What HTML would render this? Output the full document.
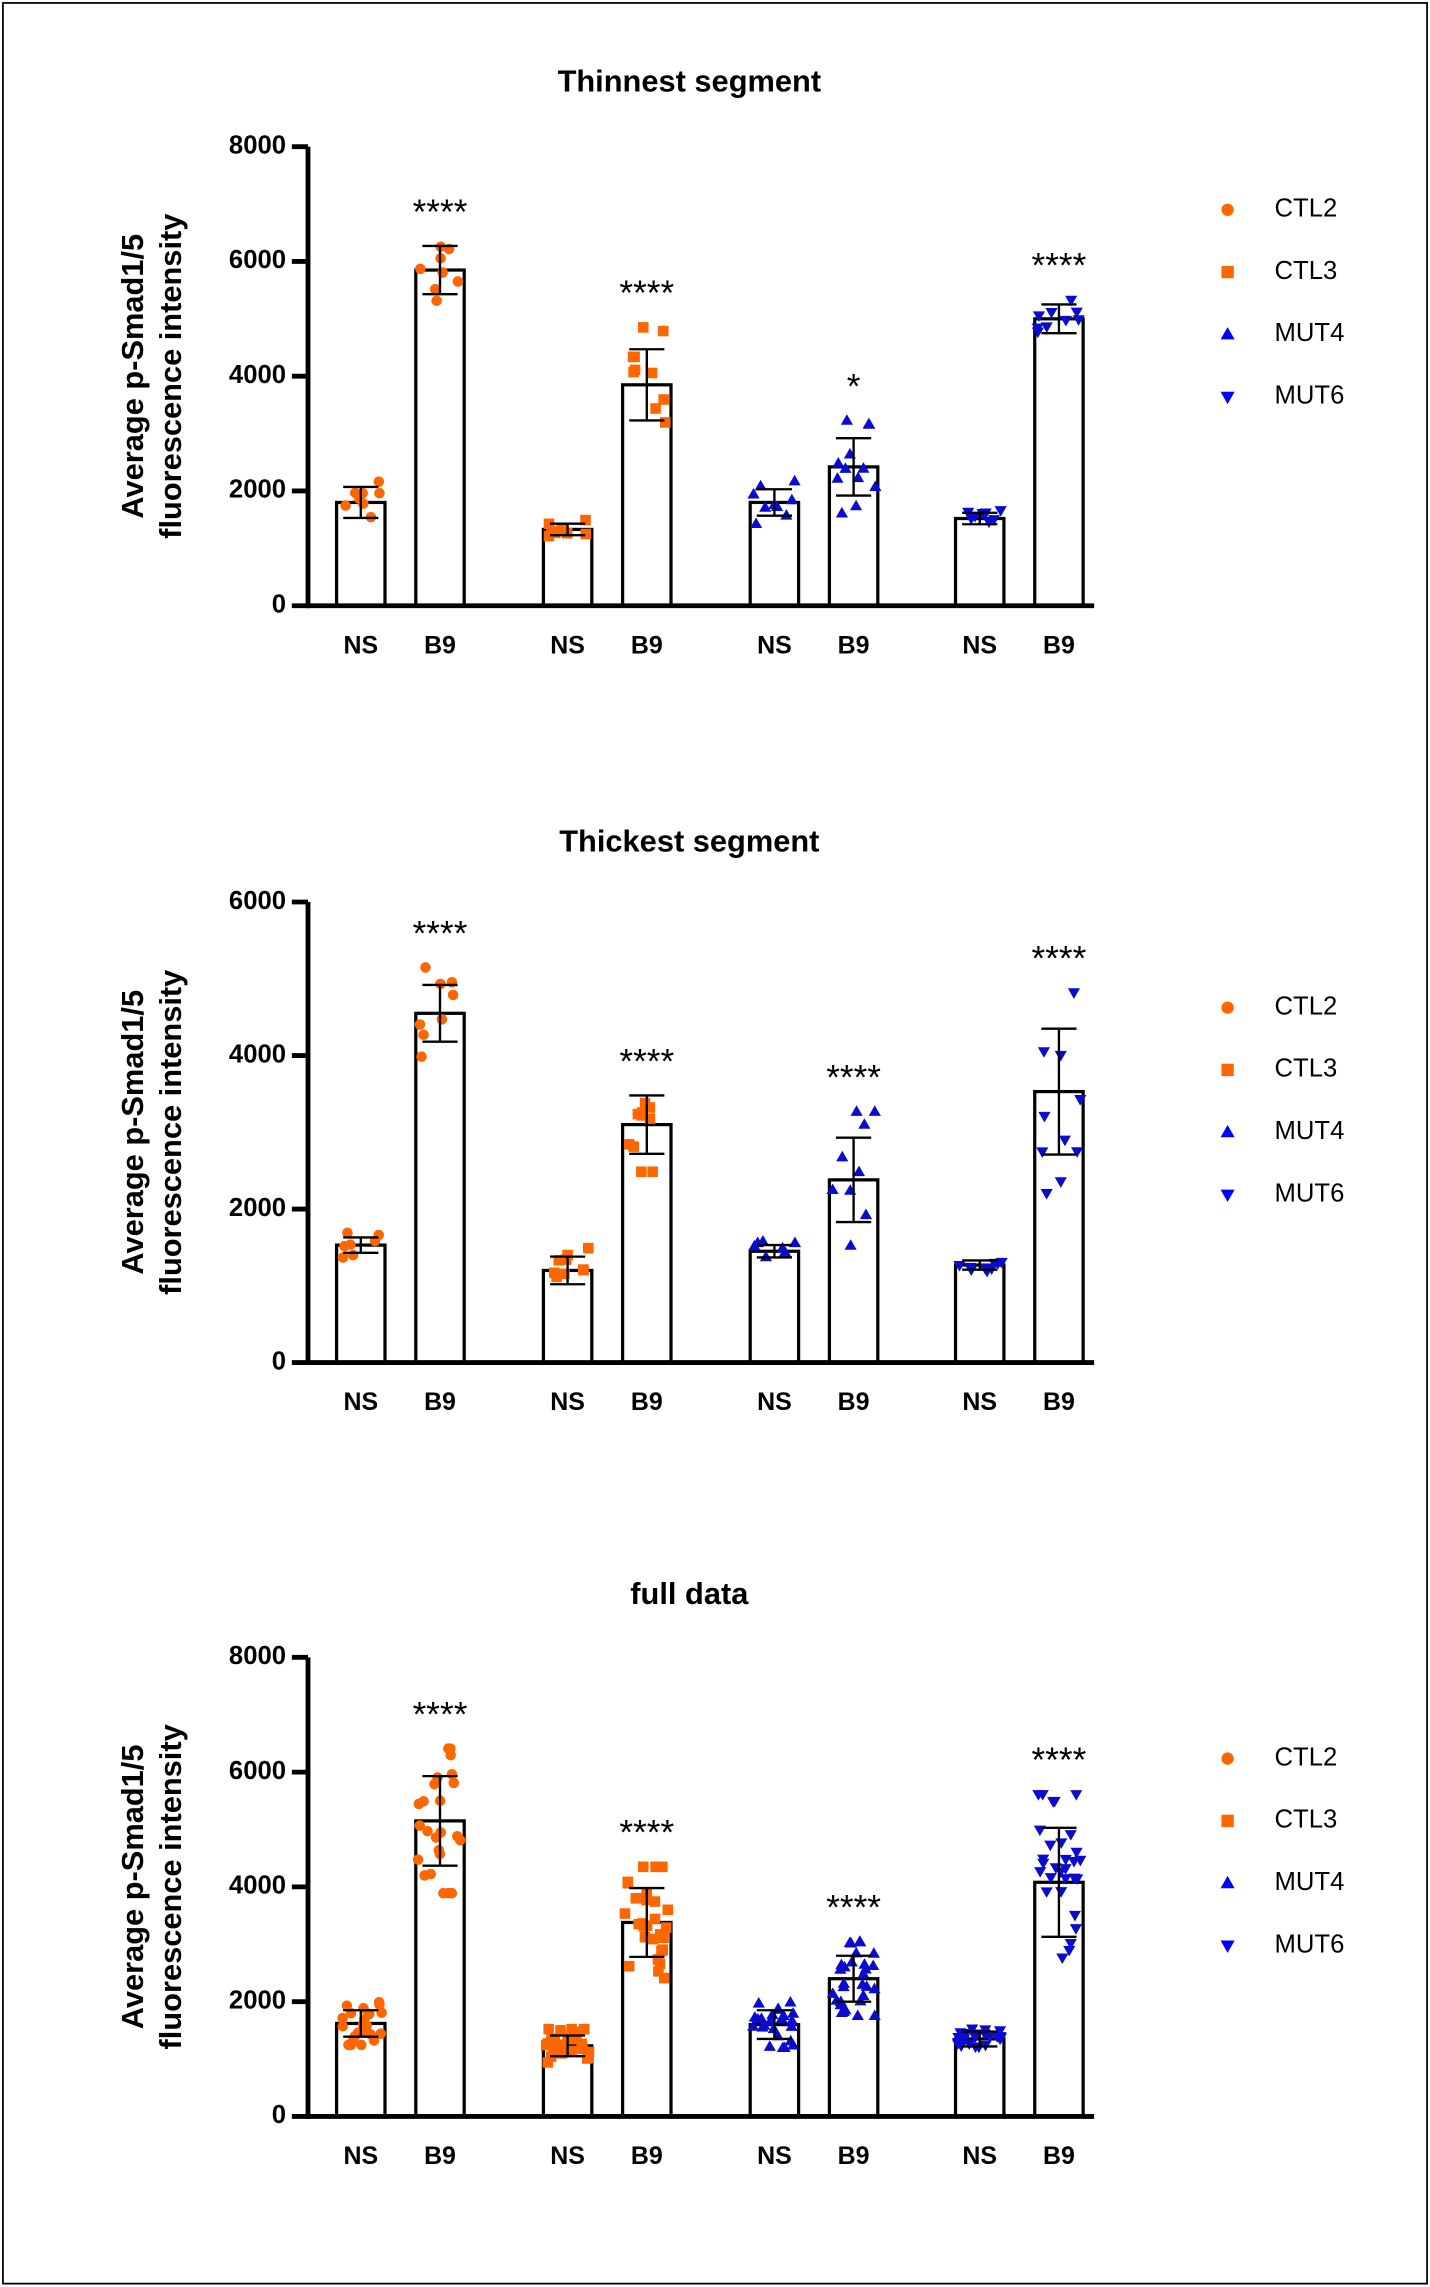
<!DOCTYPE html>
<html><head><meta charset="utf-8">
<style>
html,body{margin:0;padding:0;background:#fff;}
svg{display:block;}
text{font-family:"Liberation Sans",Arial,sans-serif;}
</style></head>
<body>
<svg id="s" width="1430" height="2287" viewBox="0 0 975 1559.3" xmlns="http://www.w3.org/2000/svg">
<rect x="2" y="2" width="971" height="1555" fill="#fff" stroke="#000" stroke-width="1.2"/>
</svg>
<script>
var s=document.getElementById('s');var h='';
var seed=7;function rnd(){seed=(seed*16807)%2147483647;return seed/2147483647;}
function gauss(){var u=0;for(var i=0;i<4;i++)u+=rnd();var g=(u-2)/0.58;return Math.max(-1.7,Math.min(1.7,g));}
var OR='#FF6600',BL='#0B0BD0';
var xs=[246,300,387,441,528,582,668,722];
function f(v){return (+v).toFixed(1);}
function marker(type,x,y,c,r){
 x=+x;y=+y;
 if(type==0)return '<circle cx="'+f(x)+'" cy="'+f(y)+'" r="'+r+'" fill="'+c+'"/>';
 if(type==1)return '<rect x="'+f(x-r)+'" y="'+f(y-r)+'" width="'+2*r+'" height="'+2*r+'" fill="'+c+'"/>';
 if(type==2)return '<polygon points="'+f(x)+','+f(y-r*1.2)+' '+f(x-r*1.15)+','+f(y+r*0.8)+' '+f(x+r*1.15)+','+f(y+r*0.8)+'" fill="'+c+'"/>';
 return '<polygon points="'+f(x)+','+f(y+r*1.2)+' '+f(x-r*1.15)+','+f(y-r*0.8)+' '+f(x+r*1.15)+','+f(y-r*0.8)+'" fill="'+c+'"/>';
}
function chart(title,ty,top,bot,max,ticks,means,sds,n,stars,legY){
 var sc=(bot-top)/max;function Y(v){return bot-v*sc;}
 h+='<text x="470" y="'+ty+'" font-size="21" font-weight="bold" text-anchor="middle" dominant-baseline="middle">'+title+'</text>';
 var cy=(top+bot)/2;
 h+='<text transform="translate(92,'+cy+') rotate(-90)" font-size="21" font-weight="bold" text-anchor="middle" dominant-baseline="middle">Average p-Smad1/5</text>';
 h+='<text transform="translate(118,'+cy+') rotate(-90)" font-size="21" font-weight="bold" text-anchor="middle" dominant-baseline="middle">fluorescence intensity</text>';
 for(var i=0;i<8;i++){
  var x=xs[i],m=means[i],sd=sds[i],g=Math.floor(i/2),c=g<2?OR:BL;
  h+='<rect x="'+(x-16.5)+'" y="'+Y(m)+'" width="33" height="'+(bot-Y(m))+'" fill="#fff" stroke="#000" stroke-width="2.2"/>';
  var hi=m;
  for(var k=0;k<n[i];k++){
   var v=m+gauss()*sd*0.95; if(v<0)v=100; if(v>hi)hi=v;
   var px=x+(rnd()-0.5)*30;
   h+=marker(g,px,Y(v),c,3.6);
  }
  var a=Y(m+sd),b=Y(m-sd);
  h+='<line x1="'+x+'" y1="'+a+'" x2="'+x+'" y2="'+b+'" stroke="#000" stroke-width="1.6"/>';
  h+='<line x1="'+(x-12)+'" y1="'+a+'" x2="'+(x+12)+'" y2="'+a+'" stroke="#000" stroke-width="1.6"/>';
  h+='<line x1="'+(x-12)+'" y1="'+b+'" x2="'+(x+12)+'" y2="'+b+'" stroke="#000" stroke-width="1.6"/>';
  if(stars[i])h+='<text x="'+x+'" y="'+(Math.min(a,Y(hi))-32)+'" font-size="24" text-anchor="middle" dominant-baseline="hanging">'+stars[i]+'</text>';
  h+='<text x="'+x+'" y="'+(bot+28)+'" font-size="17" font-weight="bold" text-anchor="middle" dominant-baseline="middle">'+(i%2?'B9':'NS')+'</text>';
 }
 h+='<line x1="210" y1="'+top+'" x2="210" y2="'+(bot+1.6)+'" stroke="#000" stroke-width="3.3"/>';
 h+='<line x1="208.4" y1="'+bot+'" x2="746" y2="'+bot+'" stroke="#000" stroke-width="3.3"/>';
 for(var t=0;t<=max;t+=ticks){
  var yy=Y(t);
  h+='<line x1="199" y1="'+yy+'" x2="210" y2="'+yy+'" stroke="#000" stroke-width="3.3"/>';
  h+='<text x="195" y="'+yy+'" font-size="17.5" font-weight="bold" text-anchor="end" dominant-baseline="middle">'+t+'</text>';
 }
 [[0,OR,'CTL2'],[1,OR,'CTL3'],[2,'#0000FF','MUT4'],[3,'#0000FF','MUT6']].forEach(function(l,j){
  var ly=legY+j*42.5;
  h+=marker(l[0],837,ly,l[1],4.2);
  h+='<text x="869" y="'+ly+'" font-size="17.5" dominant-baseline="middle">'+l[2]+'</text>';
 });
}
var st=['','****','','****','','****','','****'];
chart('Thinnest segment',57,100,413,8000,2000,[1800,5850,1330,3850,1800,2420,1520,5000],[270,420,100,620,230,500,100,250],[8,8,8,10,9,12,8,9],['','****','','****','','*','','****'],143);
chart('Thickest segment',575,615,929,6000,2000,[1530,4550,1200,3100,1450,2380,1270,3530],[100,370,180,380,80,550,60,820],[7,8,9,10,8,9,9,10],st,687);
chart('full data',1088,1130,1443,8000,2000,[1620,5150,1230,3380,1600,2400,1350,4080],[230,780,180,600,250,400,130,950],[22,24,25,30,24,30,24,30],st,1199);
s.innerHTML+=h;
</script>
</body></html>
